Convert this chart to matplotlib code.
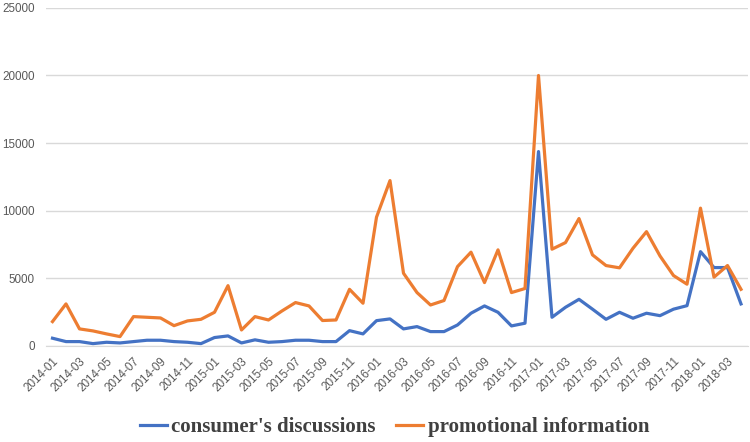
import matplotlib
matplotlib.use("Agg")
import matplotlib.pyplot as plt
import numpy as np

# monthly counts, 2014-01 .. 2018-04
months = ["%d-%02d" % (y, m) for y in range(2014, 2019) for m in range(1, 13)][:52]

consumer = [550, 300, 300, 150, 250, 200, 300, 400, 400, 300, 250, 150,
            600, 720, 200, 430, 250, 300, 400, 400, 300, 300, 1110, 870,
            1850, 1980, 1240, 1410, 1040, 1040, 1530, 2400, 2940, 2470, 1460, 1660,
            14370, 2100, 2840, 3430, 2700, 1950, 2470, 2030, 2400, 2220, 2700, 2960,
            6960, 5780, 5780, 3090]

promo = [1780, 3090, 1240, 1090, 870, 670, 2150, 2100, 2050, 1480, 1830, 1950,
         2470, 4440, 1160, 2150, 1900, 2570, 3190, 2940, 1860, 1900, 4170, 3140,
         9510, 12220, 5360, 3930, 3010, 3340, 5850, 6920, 4670, 7090, 3930, 4230,
         20000, 7140, 7630, 9410, 6720, 5930, 5760, 7210, 8440, 6640, 5190, 4550,
         10180, 5070, 5930, 4170]

fig = plt.figure(figsize=(7.5, 4.42), dpi=100)
ax = fig.add_axes([0.061, 0.218, 0.936, 0.764])

x = np.arange(len(months))
ax.plot(x, consumer, color="#4472C4", linewidth=2.3, label="consumer's discussions", solid_joinstyle="round")
ax.plot(x, promo, color="#ED7D31", linewidth=2.3, label="promotional information", solid_joinstyle="round")

ax.set_xlim(-0.5, len(months) - 0.5)
ax.set_ylim(0, 25000)
ax.set_yticks(np.arange(0, 25001, 5000))
ax.grid(axis="y", color="#D9D9D9", linewidth=1)
ax.set_axisbelow(True)

ax.set_xticks(x[::2], labels=months[::2])
plt.setp(ax.get_xticklabels(), rotation=45, ha="right", rotation_mode="anchor")
ax.tick_params(axis="both", length=0, labelsize=8.4, labelcolor="#595959")
ax.tick_params(axis="x", pad=7)
ax.tick_params(axis="y", pad=8)
for lab in ax.get_xticklabels() + ax.get_yticklabels():
    lab.set_fontfamily("Liberation Sans")

for s in ["top", "right", "left"]:
    ax.spines[s].set_visible(False)
ax.spines["bottom"].set_color("#D9D9D9")

leg = fig.legend(loc="center", bbox_to_anchor=(0.526, 0.033), ncol=2, frameon=False,
                 prop={"family": "Liberation Serif", "weight": "bold", "size": 15},
                 handlelength=1.3, columnspacing=1.0, handletextpad=0.2)
for t in leg.get_texts():
    t.set_color("#404040")

fig.savefig("out.png", dpi=100)
